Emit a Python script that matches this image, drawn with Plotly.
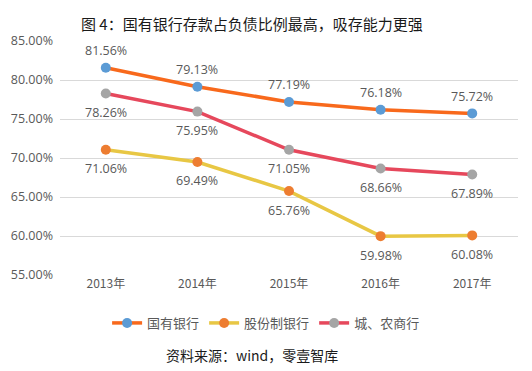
import plotly.graph_objects as go

years = ["2013年", "2014年", "2015年", "2016年", "2017年"]
state_banks = [81.56, 79.13, 77.19, 76.18, 75.72]
joint_stock = [71.06, 69.49, 65.76, 59.98, 60.08]
city_rural = [78.26, 75.95, 71.05, 68.66, 67.89]

names = ["国有银行", "股份制银行", "城、农商行"]
line_colors = ["#F8691C", "#E8C744", "#E6485C"]
marker_colors = ["#5B9BD5", "#ED7D31", "#A5A5A5"]
shifts = [17, -19, -19]

font_cjk = "Noto Sans CJK SC"

fig = go.Figure()
annotations = []
for vals, name, lc, mc, sh in zip([state_banks, joint_stock, city_rural], names,
                                  line_colors, marker_colors, shifts):
    fig.add_trace(go.Scatter(
        x=years, y=vals, name=name, mode="lines+markers",
        line=dict(color=lc, width=3.5),
        marker=dict(color=mc, size=10),
    ))
    for x, v in zip(years, vals):
        annotations.append(dict(x=x, y=v, xref="x", yref="y", text=f"{v:.2f}%",
                                showarrow=False, yshift=sh,
                                font=dict(size=12.5, color="#595959", family="Open Sans")))

annotations.append(dict(text="图 4：国有银行存款占负债比例最高，吸存能力更强",
                        xref="paper", yref="paper", x=0.42, y=1.075,
                        xanchor="center", yanchor="middle", showarrow=False,
                        font=dict(size=15, color="#1a1a1a", family=font_cjk)))
annotations.append(dict(text="资料来源：wind，零壹智库", xref="paper", yref="paper",
                        x=0.419, y=-0.342, xanchor="center", yanchor="middle",
                        showarrow=False,
                        font=dict(size=14, color="#1a1a1a", family=font_cjk)))

fig.update_layout(
    width=524, height=363,
    margin=dict(l=52, r=14, t=33, b=96),
    paper_bgcolor="white", plot_bgcolor="white",
    legend=dict(orientation="h", x=0.45, xanchor="center", y=-0.205, yanchor="middle",
                font=dict(size=13, color="#595959", family=font_cjk),
                tracegroupgap=0),
    xaxis=dict(showgrid=False, showline=False, ticks="", range=[-0.5, 4.5],
               automargin=False,
               tickfont=dict(size=12, color="#595959", family=font_cjk)),
    yaxis=dict(range=[55, 85], dtick=5, tickformat=".2f", ticksuffix="%",
               gridcolor="#D9D9D9", gridwidth=1, zeroline=False, automargin=False,
               ticklabelstandoff=6,
               tickfont=dict(size=12.5, color="#595959", family="Open Sans")),
    annotations=annotations,
)

fig.write_html("out.html")
